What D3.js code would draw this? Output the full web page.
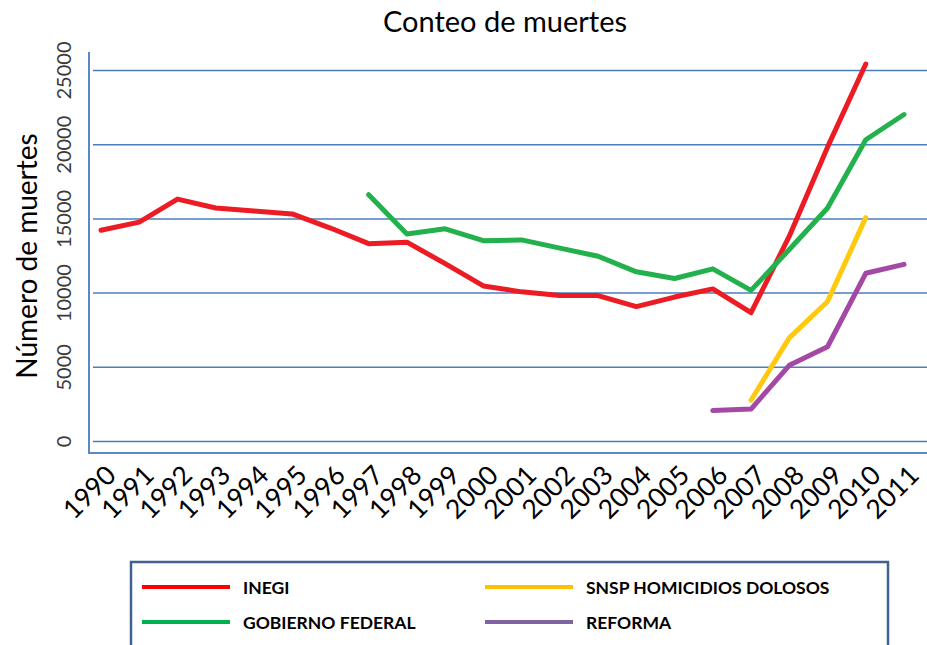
<!DOCTYPE html>
<html>
<head>
<meta charset="utf-8">
<script src="https://cdn.jsdelivr.net/npm/d3@7"></script>
<style>
  body { margin: 0; background: #fff; }
  svg { display: block; font-family: Lato, "Open Sans", sans-serif; }
</style>
</head>
<body>
<svg></svg>
<script>
let years = [1990, 1991, 1992, 1993, 1994, 1995, 1996, 1997, 1998, 1999, 2000,
             2001, 2002, 2003, 2004, 2005, 2006, 2007, 2008, 2009, 2010, 2011]

let inegi = [14200, 14750, 16300, 15700, 15500, 15300, 14350, 13300, 13400, 11950, 10450,
             10050, 9800, 9800, 9050, 9700, 10250, 8650, 13800, 19800, 25400, null]
let gobiernoFederal = [null, null, null, null, null, null, null, 16600, 13950, 14300, 13500,
                       13550, 13000, 12450, 11400, 10950, 11600, 10150, 12900, 15700, 20300, 22000]
let snsp = [null, null, null, null, null, null, null, null, null, null, null,
            null, null, null, null, null, null, 2750, 6950, 9400, 15050, null]
let reforma = [null, null, null, null, null, null, null, null, null, null, null,
               null, null, null, null, null, 2050, 2150, 5100, 6350, 11300, 11900]

let seriesNames = ["INEGI", "GOBIERNO FEDERAL", "SNSP HOMICIDIOS DOLOSOS", "REFORMA"]
let seriesValues = [inegi, gobiernoFederal, snsp, reforma]
let lineColors = ["#ec1c24", "#22b14c", "#ffc90e", "#a349a4"]
let legendColors = ["#ff0000", "#00b050", "#ffc000", "#8064a2"]

let yTicks = [0, 5000, 10000, 15000, 20000, 25000]

let width = 927
let height = 645

let svg = d3.select("svg")
  .attr("width", width)
  .attr("height", height)

let xScale = d3.scaleLinear()
  .domain([1990, 2011])
  .range([101, 904])

let yScale = d3.scaleLinear()
  .domain([0, 25000])
  .range([441, 70])

// grid + vertical tick labels
let yAxis = d3.axisLeft(yScale)
  .tickValues(yTicks)
  .tickFormat(d3.format("d"))
  .tickSize(-(width - 93))

let gy = svg.append("g")
  .attr("transform", "translate(93,0)")
  .call(yAxis)
gy.select(".domain").remove()
gy.selectAll("line")
  .attr("stroke", "#4a7ebb")
  .attr("stroke-width", 1.5)
gy.selectAll("text")
  .attr("x", 0)
  .attr("y", -22)
  .attr("dy", 0)
  .attr("transform", "rotate(-90)")
  .style("text-anchor", "middle")
  .style("font-size", "20px")
  .style("font-family", "Lato, sans-serif")
  .attr("fill", "#3a3a3a")

// plot frame
svg.append("path")
  .attr("d", "M89,52V453H" + width)
  .attr("fill", "none")
  .attr("stroke", "#5b87c3")
  .attr("stroke-width", 2)

// x labels
let xAxis = d3.axisBottom(xScale)
  .tickValues(years)
  .tickFormat(d3.format("d"))
  .tickSize(0)

let gx = svg.append("g")
  .attr("transform", "translate(0,453)")
  .call(xAxis)
gx.select(".domain").remove()
gx.selectAll("text")
  .attr("y", 0)
  .attr("dy", 0)
  .attr("transform", "translate(16,24) rotate(-45)")
  .style("text-anchor", "end")
  .style("font-size", "26.5px")
  .style("font-family", "Lato, sans-serif")
  .attr("fill", "#000")

// lines
let line = d3.line()
  .defined((d) => d != null)
  .x((d, i) => xScale(years[i]))
  .y((d) => yScale(d))

svg.selectAll(".serie")
  .data(seriesValues)
  .enter()
  .append("path")
  .attr("class", "serie")
  .attr("d", (d) => line(d))
  .attr("fill", "none")
  .attr("stroke", (d, i) => lineColors[i])
  .attr("stroke-width", 5)
  .attr("stroke-linejoin", "round")
  .attr("stroke-linecap", "round")

// titles
svg.append("text")
  .attr("x", 505)
  .attr("y", 32)
  .attr("text-anchor", "middle")
  .style("font-size", "29px")
  .text("Conteo de muertes")

svg.append("text")
  .attr("transform", "translate(37,256) rotate(-90)")
  .attr("text-anchor", "middle")
  .style("font-size", "28px")
  .text("Número de muertes")

// legend
svg.append("rect")
  .attr("x", 131)
  .attr("y", 562)
  .attr("width", 757)
  .attr("height", 120)
  .attr("fill", "#fff")
  .attr("stroke", "#41618f")
  .attr("stroke-width", 2.5)

// column 1: INEGI, GOBIERNO FEDERAL; column 2: SNSP, REFORMA
let legend = svg.selectAll(".legend")
  .data(seriesNames)
  .enter()
  .append("g")
  .attr("class", "legend")
  .attr("transform", (d, i) => "translate(" + (i < 2 ? 142 : 485) + "," + (i % 2 == 0 ? 587 : 622) + ")")

legend.append("line")
  .attr("x1", 0)
  .attr("x2", 88)
  .attr("stroke", (d, i) => legendColors[i])
  .attr("stroke-width", 4)

legend.append("text")
  .attr("x", 101)
  .attr("y", 6.5)
  .style("font-size", "17.5px")
  .style("font-weight", "bold")
  .text((d) => d)
</script>
</body>
</html>
